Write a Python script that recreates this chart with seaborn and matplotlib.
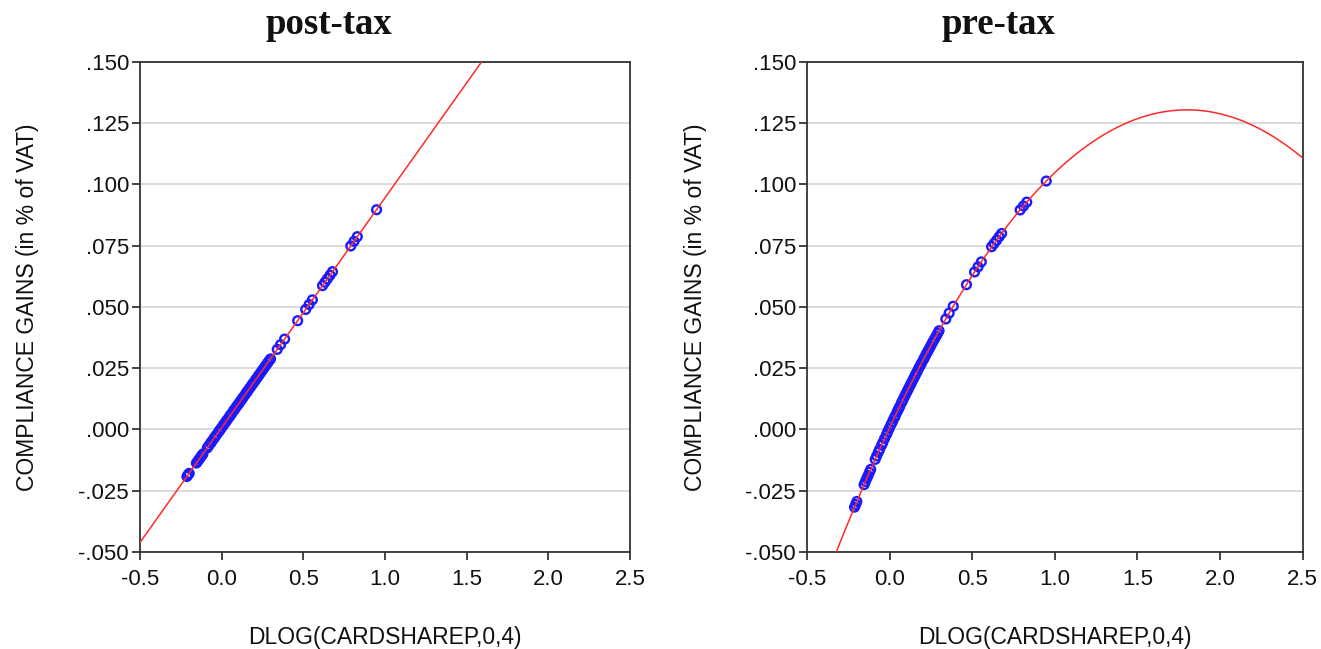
import matplotlib
matplotlib.use("Agg")
import matplotlib.pyplot as plt
import matplotlib.ticker as mticker
import seaborn as sns
import pandas as pd

# x values: DLOG(CARDSHAREP,0,4)
x_vals = [-0.213, -0.206, -0.199, -0.155, -0.147, -0.139, -0.131, -0.123, -0.115,
          -0.088, -0.079, -0.068, -0.061, -0.049, -0.042, -0.031, -0.019, -0.012, -0.003,
          0.008, 0.017, 0.026, 0.034, 0.045, 0.053, 0.061, 0.072, 0.079, 0.088, 0.097,
          0.106, 0.114, 0.123, 0.131, 0.142, 0.151, 0.158, 0.167, 0.176, 0.185, 0.193,
          0.204, 0.212, 0.221, 0.229, 0.238, 0.247, 0.256, 0.265, 0.273, 0.282, 0.291,
          0.299, 0.340, 0.360, 0.385, 0.465, 0.514, 0.535, 0.555, 0.617, 0.632, 0.647,
          0.663, 0.678, 0.790, 0.810, 0.830, 0.948]

post_tax = [-0.0192, -0.0185, -0.0179, -0.0137, -0.0130, -0.0122, -0.0115, -0.0107, -0.0100,
            -0.0075, -0.0066, -0.0056, -0.0049, -0.0038, -0.0031, -0.0021, -0.0010, -0.0003, 0.0005,
            0.0016, 0.0024, 0.0032, 0.0040, 0.0050, 0.0058, 0.0065, 0.0076, 0.0082, 0.0091, 0.0099,
            0.0107, 0.0115, 0.0123, 0.0131, 0.0141, 0.0150, 0.0156, 0.0165, 0.0173, 0.0182, 0.0189,
            0.0199, 0.0207, 0.0215, 0.0223, 0.0231, 0.0240, 0.0248, 0.0257, 0.0264, 0.0273, 0.0281,
            0.0288, 0.0327, 0.0346, 0.0369, 0.0444, 0.0490, 0.0510, 0.0529, 0.0587, 0.0601, 0.0615,
            0.0630, 0.0644, 0.0749, 0.0768, 0.0787, 0.0897]

pre_tax = [-0.0317, -0.0306, -0.0294, -0.0225, -0.0212, -0.0200, -0.0188, -0.0175, -0.0163,
           -0.0122, -0.0108, -0.0092, -0.0081, -0.0064, -0.0054, -0.0037, -0.0020, -0.0009, 0.0004,
           0.0020, 0.0032, 0.0045, 0.0056, 0.0072, 0.0083, 0.0094, 0.0110, 0.0119, 0.0132, 0.0144,
           0.0156, 0.0167, 0.0179, 0.0190, 0.0204, 0.0216, 0.0226, 0.0237, 0.0250, 0.0261, 0.0271,
           0.0285, 0.0295, 0.0307, 0.0317, 0.0328, 0.0339, 0.0351, 0.0362, 0.0371, 0.0382, 0.0393,
           0.0403, 0.0451, 0.0475, 0.0503, 0.0591, 0.0643, 0.0664, 0.0684, 0.0746, 0.0759, 0.0772,
           0.0787, 0.0800, 0.0896, 0.0912, 0.0928, 0.1014]

titles = ["post-tax", "pre-tax"]
fit_orders = [1, 2]
x_ticks = [-0.5, 0.0, 0.5, 1.0, 1.5, 2.0, 2.5]
y_ticks = [-0.050, -0.025, 0.000, 0.025, 0.050, 0.075, 0.100, 0.125, 0.150]

sns.set_theme(style="white")
plt.rcParams["font.family"] = ["Liberation Sans", "DejaVu Sans"]

fig = plt.figure(figsize=(13.21, 6.49), dpi=100)
positions = [[0.106, 0.1495, 0.371, 0.755], [0.611, 0.1495, 0.375, 0.755]]
title_x = [0.2487, 0.7559]

def yfmt(v, pos):
    s = f"{v:.3f}"
    if s.startswith("0."):
        s = s[1:]
    elif s.startswith("-0."):
        s = "-" + s[2:]
    return s

for i, ys in enumerate([post_tax, pre_tax]):
    ax = fig.add_axes(positions[i])
    df = pd.DataFrame({"x": x_vals, "y": ys})
    ax.set_xlim(-0.5, 2.5)
    ax.set_ylim(-0.050, 0.150)
    ax.set_yticks(y_ticks)
    ax.set_xticks(x_ticks)
    ax.yaxis.grid(True, color="#d4d4d4", linewidth=1.2)
    ax.xaxis.grid(False)
    ax.set_axisbelow(True)
    sns.regplot(data=df, x="x", y="y", order=fit_orders[i], ci=None, truncate=False,
                ax=ax, color="blue",
                scatter_kws=dict(facecolors="none", edgecolors="#1a1aff", s=40,
                                 linewidths=1.7, alpha=1, zorder=3),
                line_kws=dict(color="#ff2a2a", linewidth=1.1, zorder=4))
    ax.set_xlim(-0.5, 2.5)
    ax.set_ylim(-0.050, 0.150)
    ax.yaxis.set_major_formatter(mticker.FuncFormatter(yfmt))
    ax.xaxis.set_major_formatter(mticker.FormatStrFormatter("%.1f"))
    ax.tick_params(axis="both", which="major", direction="out", length=6, width=1.2,
                   color="#222222", labelsize=16, labelcolor="#111111",
                   bottom=True, left=True, top=False, right=False)
    ax.tick_params(axis="x", pad=6)
    ax.tick_params(axis="y", pad=2)
    for sp in ax.spines.values():
        sp.set_color("#333333")
        sp.set_linewidth(1.3)
    ax.set_xlabel("DLOG(CARDSHAREP,0,4)", fontsize=16.5, color="#111111", labelpad=26)
    ax.set_ylabel("COMPLIANCE GAINS (in % of VAT)", fontsize=16.5, color="#111111", labelpad=28)
    fig.text(title_x[i], 1 - 34 / 649, titles[i], fontsize=26.5, fontweight="bold",
             family=["Liberation Serif", "DejaVu Serif"], color="#111111",
             ha="center", va="baseline")

fig.savefig("out.png", dpi=100, facecolor="white")
